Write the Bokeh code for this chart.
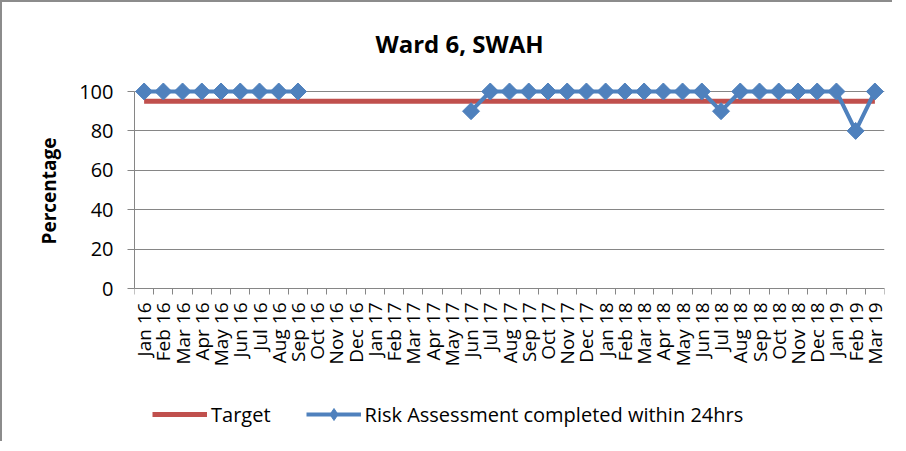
import numpy as np
from bokeh.plotting import figure
from bokeh.models import Range1d, FixedTicker, Legend, LegendItem, ColumnDataSource, Title
from bokeh.core.properties import value
from bokeh.embed import file_html
from bokeh.resources import INLINE

months = ["Jan 16", "Feb 16", "Mar 16", "Apr 16", "May 16", "Jun 16", "Jul 16", "Aug 16",
          "Sep 16", "Oct 16", "Nov 16", "Dec 16", "Jan 17", "Feb 17", "Mar 17", "Apr 17",
          "May 17", "Jun 17", "Jul 17", "Aug 17", "Sep 17", "Oct 17", "Nov 17", "Dec 17",
          "Jan 18", "Feb 18", "Mar 18", "Apr 18", "May 18", "Jun 18", "Jul 18", "Aug 18",
          "Sep 18", "Oct 18", "Nov 18", "Dec 18", "Jan 19", "Feb 19", "Mar 19"]
nan = float("nan")
risk_assessment = [100, 100, 100, 100, 100, 100, 100, 100, 100,
                   nan, nan, nan, nan, nan, nan, nan, nan,
                   90, 100, 100, 100, 100, 100, 100, 100, 100, 100, 100, 100, 100,
                   90, 100, 100, 100, 100, 100, 100, 80, 100]
target = [95] * len(months)
y_ticks = [0, 20, 40, 60, 80, 100]

FONT = "Open Sans"
GRAY = "#868686"
RED = "#C0504D"
BLUE = "#4F81BD"

# layout: 197 px for 0..100, head room above 100 for the markers, and room below 0
# for the month labels and the legend (kept inside the frame so nothing is clipped)
PX_PER_UNIT = 1.97
HEAD_PX = 10
FOOT_PX = 153
FRAME_H = int(round(100 * PX_PER_UNIT)) + HEAD_PX + FOOT_PX
Y_END = 100 + HEAD_PX / PX_PER_UNIT
Y_START = -FOOT_PX / PX_PER_UNIT

idx = list(range(len(months)))
src = ColumnDataSource(dict(x=idx, risk=risk_assessment, target=target, month=months))

p = figure(frame_width=750, frame_height=FRAME_H, output_backend="svg", toolbar_location=None,
           x_range=Range1d(-0.5, len(months) - 0.5), y_range=Range1d(Y_START, Y_END),
           min_border_left=132, min_border_right=8, min_border_top=77, min_border_bottom=0)
p.styles = {"border-left": "2px solid #8c8c8c", "border-top": "2px solid #8c8c8c"}
p.outline_line_color = None
p.background_fill_color = "white"
p.border_fill_color = "white"

# title
p.title.text = "Ward 6, SWAH"
p.title.text_font = FONT
p.title.text_font_size = "24px"
p.title.text_font_style = "bold"
p.title.text_color = "black"
p.title.align = "left"
p.title.offset = 241
p.title.standoff = 44

# grid
p.xgrid.visible = False
p.ygrid.ticker = FixedTicker(ticks=y_ticks)
p.ygrid.grid_line_color = GRAY
p.ygrid.grid_line_width = 1

# y axis
p.yaxis.ticker = FixedTicker(ticks=y_ticks)
p.yaxis.bounds = (0, 100)
p.yaxis.axis_line_color = GRAY
p.yaxis.major_tick_line_color = GRAY
p.yaxis.major_tick_out = 7
p.yaxis.major_tick_in = 0
p.yaxis.minor_tick_line_color = None
p.yaxis.major_label_text_font = FONT
p.yaxis.major_label_text_font_size = "20px"
p.yaxis.major_label_text_color = "black"
p.yaxis.major_label_standoff = 14

# y axis title, placed alongside the 0..100 part of the axis
p.add_layout(Title(text="Percentage", align="left", offset=197, standoff=30,
                   text_font=FONT, text_font_size="19px", text_font_style="bold",
                   text_color="black"), "left")

# x axis: drawn at y = 0, tick marks between the months
p.xaxis.fixed_location = 0
p.xaxis.ticker = FixedTicker(ticks=[], minor_ticks=[i - 0.5 for i in range(len(months) + 1)])
p.xaxis.axis_line_color = GRAY
p.xaxis.major_tick_line_color = None
p.xaxis.major_tick_out = 0
p.xaxis.major_tick_in = 0
p.xaxis.minor_tick_line_color = GRAY
p.xaxis.minor_tick_out = 6
p.xaxis.minor_tick_in = 0

# month labels, rotated, hanging below the axis
p.text(x="x", y=0, text="month", source=src, angle=np.pi / 2, y_offset=14,
       text_align="right", text_baseline="middle", text_color="black",
       text_font=value(FONT), text_font_size=value("19px"))

# series
r_target = p.line("x", "target", source=src, line_color=RED, line_width=5)
r_line = p.line("x", "risk", source=src, line_color=BLUE, line_width=4)
# diamond markers (drawn under the rotated squares; gives the legend its diamond swatch)
r_key = p.scatter("x", "risk", source=src, marker="diamond", size=12,
                  fill_color=BLUE, line_color=BLUE)
r_pts = p.scatter("x", "risk", source=src, marker="square", angle=np.pi / 4, size=12,
                  fill_color=BLUE, line_color=BLUE)

legend = Legend(items=[LegendItem(label="Target", renderers=[r_target]),
                       LegendItem(label="Risk Assessment completed within 24hrs",
                                  renderers=[r_line, r_key])],
                location=(18, 12), orientation="horizontal",
                border_line_color=None, background_fill_alpha=0,
                padding=0, margin=0, spacing=35, glyph_width=55, glyph_height=30,
                label_standoff=4, label_text_font=FONT, label_text_font_size="20px",
                label_text_color="black", label_text_baseline="middle")
p.add_layout(legend, "center")

open("out.html", "w").write(file_html(p, INLINE))
